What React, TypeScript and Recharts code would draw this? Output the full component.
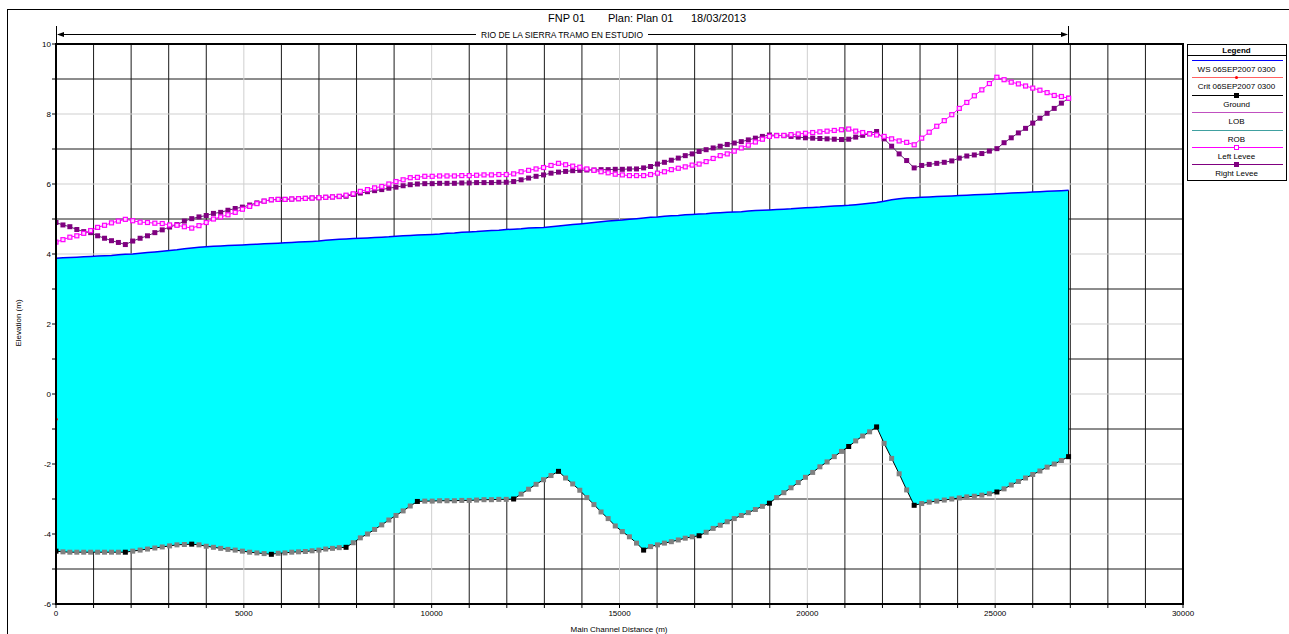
import React from "react";
import {
  ComposedChart,
  Area,
  Line,
  Scatter,
  XAxis,
  YAxis,
  CartesianGrid,
  ReferenceLine,
} from "recharts";

// river stations (m), one per plotted cross section
const stations = [
  0, 185, 369, 554, 738, 923, 1108, 1292, 1477, 1661, 1846,
  2042, 2239, 2435, 2631, 2828, 3024, 3220, 3417, 3613,
  3806, 3999, 4191, 4384, 4577, 4770, 4962, 5155, 5348, 5540, 5733,
  5914, 6095, 6275, 6456, 6637, 6817, 6998, 7179, 7360, 7540, 7721,
  7911, 8101, 8291, 8481, 8671, 8860, 9050, 9240, 9430, 9620,
  9817, 10014, 10211, 10408, 10605, 10802, 10999, 11196, 11393, 11591, 11788, 11985, 12182,
  12381, 12580, 12779, 12978, 13177, 13376,
  13565, 13754, 13943, 14131, 14320, 14509, 14698, 14887, 15076, 15264, 15453, 15642,
  15827, 16011, 16196, 16380, 16565, 16750, 16934, 17119,
  17306, 17493, 17681, 17868, 18055, 18242, 18429, 18617, 18804, 18991,
  19183, 19375, 19566, 19758, 19950, 20142, 20334, 20525, 20717, 20909, 21101,
  21287, 21473, 21658, 21844,
  22044, 22244, 22444, 22644, 22844,
  23044, 23244, 23445, 23645, 23845, 24045, 24245, 24445, 24645, 24846, 25046,
  25237, 25428, 25618, 25809, 26000, 26191, 26382, 26572, 26763, 26954,
];

const groundElev = [
  -4.49, -4.51, -4.52, -4.52, -4.52, -4.52, -4.52, -4.52, -4.52, -4.52, -4.52,
  -4.49, -4.46, -4.43, -4.4, -4.37, -4.34, -4.31, -4.3, -4.29,
  -4.31, -4.35, -4.38, -4.41, -4.44, -4.46, -4.49, -4.52, -4.54, -4.56, -4.58,
  -4.55, -4.54, -4.52, -4.51, -4.5, -4.48, -4.46, -4.43, -4.41, -4.39, -4.38,
  -4.25, -4.11, -4.0, -3.87, -3.74, -3.6, -3.47, -3.34, -3.2, -3.07,
  -3.06, -3.06, -3.05, -3.05, -3.05, -3.04, -3.04, -3.03, -3.02, -3.02, -3.01, -3.01, -3.0,
  -2.86, -2.72, -2.58, -2.45, -2.33, -2.21,
  -2.4, -2.57, -2.75, -2.96, -3.16, -3.37, -3.56, -3.77, -3.93, -4.08, -4.26, -4.46,
  -4.36, -4.31, -4.26, -4.22, -4.17, -4.12, -4.08, -4.05,
  -3.95, -3.84, -3.75, -3.65, -3.56, -3.47, -3.39, -3.3, -3.21, -3.12,
  -2.96, -2.82, -2.68, -2.53, -2.38, -2.24, -2.08, -1.94, -1.79, -1.64, -1.5,
  -1.34, -1.2, -1.08, -0.94,
  -1.41, -1.84, -2.28, -2.74, -3.18,
  -3.13, -3.09, -3.06, -3.03, -3.0, -2.97, -2.94, -2.92, -2.89, -2.85, -2.8,
  -2.71, -2.6, -2.5, -2.4, -2.3, -2.2, -2.09, -2.0, -1.9, -1.79,
];

const wsElev = [
  3.88, 3.89, 3.9, 3.91, 3.92, 3.93, 3.94, 3.95, 3.96, 3.98, 3.99,
  4.0, 4.02, 4.04, 4.06, 4.08, 4.1, 4.12, 4.15, 4.17,
  4.19, 4.21, 4.22, 4.23, 4.24, 4.25, 4.26, 4.27, 4.28, 4.29, 4.3,
  4.31, 4.32, 4.33, 4.34, 4.35, 4.36, 4.37, 4.39, 4.41, 4.42, 4.43,
  4.44, 4.45, 4.46, 4.47, 4.48, 4.49, 4.51, 4.52, 4.53, 4.54,
  4.55, 4.56, 4.57, 4.59, 4.6, 4.62, 4.63, 4.64, 4.66, 4.67, 4.68, 4.7, 4.71,
  4.72, 4.74, 4.75, 4.76, 4.78, 4.8,
  4.82, 4.84, 4.86, 4.88, 4.9, 4.92, 4.94, 4.96, 4.97, 4.99, 5.01, 5.03,
  5.05, 5.06, 5.08, 5.09, 5.1, 5.12, 5.13, 5.14,
  5.15, 5.17, 5.18, 5.19, 5.2, 5.21, 5.23, 5.24, 5.25, 5.26,
  5.27, 5.28, 5.29, 5.31, 5.32, 5.33, 5.34, 5.36, 5.37, 5.38, 5.39,
  5.41, 5.43, 5.45, 5.47,
  5.51, 5.55, 5.58, 5.6, 5.61,
  5.62, 5.63, 5.64, 5.65, 5.66, 5.67, 5.68, 5.69, 5.7, 5.71, 5.72,
  5.73, 5.74, 5.75, 5.76, 5.77, 5.78, 5.79, 5.8, 5.81, 5.82,
];

const leftLevee = [
  4.34, 4.41, 4.48, 4.52, 4.59, 4.67, 4.76, 4.82, 4.89, 4.94, 4.99,
  4.95, 4.91, 4.9, 4.88, 4.87, 4.83, 4.82, 4.78, 4.74,
  4.81, 4.9, 5.0, 5.06, 5.12, 5.19, 5.28, 5.36, 5.44, 5.51, 5.55,
  5.56, 5.56, 5.57, 5.58, 5.59, 5.6, 5.61, 5.62, 5.63, 5.65, 5.68,
  5.72, 5.79, 5.84, 5.89, 5.93, 6.0, 6.07, 6.12, 6.18, 6.19,
  6.22, 6.22, 6.23, 6.23, 6.23, 6.24, 6.24, 6.25, 6.26, 6.26, 6.27, 6.27, 6.29,
  6.35, 6.39, 6.43, 6.47, 6.53, 6.59,
  6.55, 6.51, 6.48, 6.43, 6.39, 6.35, 6.32, 6.28, 6.26, 6.24, 6.24, 6.24,
  6.27, 6.31, 6.35, 6.41, 6.45, 6.49, 6.54, 6.57,
  6.64, 6.73, 6.81, 6.86, 6.94, 7.03, 7.11, 7.2, 7.28, 7.36,
  7.38, 7.39, 7.41, 7.43, 7.45, 7.47, 7.49, 7.51, 7.53, 7.55, 7.57,
  7.51, 7.47, 7.43, 7.4,
  7.36, 7.29, 7.23, 7.19, 7.12,
  7.31, 7.48, 7.65, 7.81, 7.98, 8.16, 8.33, 8.52, 8.69, 8.87, 9.05,
  8.98, 8.91, 8.86, 8.8, 8.74, 8.68, 8.61, 8.53, 8.5, 8.45,
];

const rightLevee = [
  4.9, 4.83, 4.78, 4.7, 4.64, 4.61, 4.52, 4.45, 4.38, 4.33, 4.27,
  4.37, 4.45, 4.52, 4.61, 4.69, 4.77, 4.84, 4.94, 5.01,
  5.06, 5.1, 5.16, 5.19, 5.25, 5.3, 5.34, 5.4, 5.46, 5.51, 5.55,
  5.56, 5.56, 5.57, 5.58, 5.59, 5.6, 5.61, 5.62, 5.63, 5.64, 5.65,
  5.7, 5.74, 5.78, 5.81, 5.84, 5.88, 5.91, 5.95, 5.98, 6.0,
  6.01, 6.01, 6.02, 6.02, 6.02, 6.03, 6.03, 6.04, 6.04, 6.04, 6.05, 6.05, 6.07,
  6.12, 6.17, 6.22, 6.26, 6.31, 6.34,
  6.36, 6.38, 6.39, 6.4, 6.4, 6.41, 6.41, 6.42, 6.42, 6.43, 6.43, 6.46,
  6.5, 6.57, 6.62, 6.68, 6.74, 6.81, 6.86, 6.93,
  6.98, 7.03, 7.08, 7.13, 7.17, 7.21, 7.26, 7.31, 7.36, 7.4,
  7.39, 7.38, 7.36, 7.34, 7.32, 7.31, 7.3, 7.29, 7.28, 7.27, 7.28,
  7.34, 7.39, 7.44, 7.5,
  7.29, 7.08, 6.86, 6.67, 6.46,
  6.53, 6.56, 6.59, 6.62, 6.66, 6.74, 6.8, 6.83, 6.87, 6.94, 7.01,
  7.18, 7.32, 7.46, 7.59, 7.74, 7.88, 8.02, 8.16, 8.31, 8.45,
];

// surveyed sections (black markers); the rest are interpolated
const realSections = [
  0, 1846, 3613, 5733, 7721, 9620, 12182, 13376, 15642, 17119, 18991, 21101, 21844, 22844, 25046, 26954,
];

const critPoints = [{ station: 0, crit: -0.72 }];

const xTicks = [
  0, 1000, 2000, 3000, 4000, 5000, 6000, 7000, 8000, 9000, 10000, 11000, 12000, 13000, 14000, 15000,
  16000, 17000, 18000, 19000, 20000, 21000, 22000, 23000, 24000, 25000, 26000, 27000, 28000, 29000, 30000,
];
const xLabelTicks = [0, 5000, 10000, 15000, 20000, 25000, 30000];
const yTicks = [-6, -5, -4, -3, -2, -1, 0, 1, 2, 3, 4, 5, 6, 7, 8, 9, 10];
const yLabelTicks = [-6, -4, -2, 0, 2, 4, 6, 8, 10];

const data = stations.map((station, i) => ({
  station,
  ground: groundElev[i],
  ws: wsElev[i],
  left: leftLevee[i],
  right: rightLevee[i],
}));

const last = data[data.length - 1];

const W = 1289;
const H = 634;
const PLOT = { left: 56, top: 44, right: 1183, bottom: 604 };
const FONT = "'Liberation Sans', Arial, sans-serif";

const GroundDot = (props: any) => {
  const { cx, cy, payload, index } = props;
  if (cx == null || cy == null) return null;
  const real = realSections.includes(payload.station);
  return (
    <rect key={`g-${index}`} x={cx - 2.5} y={cy - 2.5} width={5} height={5} fill={real ? "#000000" : "#808080"} />
  );
};

const LeftDot = (props: any) => {
  const { cx, cy, index } = props;
  if (cx == null || cy == null) return null;
  return (
    <rect key={`l-${index}`} x={cx - 2} y={cy - 2} width={4} height={4} fill="#ffd6ff" stroke="#ff00ff" strokeWidth={1.2} />
  );
};

const RightDot = (props: any) => {
  const { cx, cy, index } = props;
  if (cx == null || cy == null) return null;
  return <rect key={`r-${index}`} x={cx - 2.5} y={cy - 2.5} width={5} height={5} fill="#800080" />;
};

const legendRows = [
  { label: "WS  06SEP2007 0300", y: 60, color: "#0000ff", marker: "" },
  { label: "Crit  06SEP2007 0300", y: 77, color: "#ff6060", marker: "crit" },
  { label: "Ground", y: 95, color: "#000000", marker: "ground" },
  { label: "LOB", y: 112, color: "#c050c0", marker: "" },
  { label: "ROB", y: 130, color: "#40a0a0", marker: "" },
  { label: "Left Levee", y: 147, color: "#ff00ff", marker: "left" },
  { label: "Right Levee", y: 164, color: "#800080", marker: "right" },
];

function Overlay() {
  const lx = 1187;
  const lw = 99;
  const cx = lx + lw / 2;
  return (
    <svg width={W} height={H} style={{ position: "absolute", left: 0, top: 0, pointerEvents: "none" }}>
      {/* page frame */}
      <rect x={7.5} y={9.5} width={1300} height={640} fill="none" stroke="#000" strokeWidth={1} />
      {/* plot frame */}
      <rect
        x={PLOT.left}
        y={PLOT.top}
        width={PLOT.right - PLOT.left}
        height={PLOT.bottom - PLOT.top}
        fill="none"
        stroke="#000"
        strokeWidth={2}
      />
      {/* title */}
      <g fontFamily={FONT} fontSize={11} fill="#000">
        <text x={548} y={22}>FNP 01</text>
        <text x={608} y={22}>Plan: Plan 01</text>
        <text x={691} y={22}>18/03/2013</text>
      </g>
      {/* reach arrow */}
      <line x1={56.5} y1={26} x2={56.5} y2={44} stroke="#000" strokeWidth={1} />
      <line x1={1068.5} y1={26} x2={1068.5} y2={43} stroke="#000" strokeWidth={1} />
      <line x1={58} y1={34.5} x2={476} y2={34.5} stroke="#000" strokeWidth={1} />
      <line x1={648} y1={34.5} x2={1066} y2={34.5} stroke="#000" strokeWidth={1} />
      <path d="M57,34.5 L64,32 L64,37 Z" fill="#000" />
      <path d="M1068,34.5 L1061,32 L1061,37 Z" fill="#000" />
      <text
        x={481}
        y={37.5}
        fontFamily={FONT}
        fontSize={8.5}
        textLength={162}
        lengthAdjust="spacingAndGlyphs"
        fill="#000"
      >
        RIO DE LA SIERRA TRAMO EN ESTUDIO
      </text>
      {/* axis titles */}
      <text
        x={18}
        y={323}
        transform="rotate(-90 18 323)"
        textAnchor="middle"
        dominantBaseline="central"
        fontFamily={FONT}
        fontSize={8}
        fill="#000"
      >
        Elevation (m)
      </text>
      <text x={619} y={632} textAnchor="middle" fontFamily={FONT} fontSize={8} fill="#000">
        Main Channel Distance (m)
      </text>
      {/* legend */}
      <rect x={lx + 0.5} y={44.5} width={lw} height={136} fill="#fff" stroke="#000" strokeWidth={1} />
      <text x={cx} y={52.5} textAnchor="middle" fontFamily={FONT} fontSize={8} fontWeight="bold" fill="#000">
        Legend
      </text>
      <line x1={lx} y1={55.5} x2={lx + lw} y2={55.5} stroke="#000" strokeWidth={1} />
      {legendRows.map((r) => (
        <g key={r.label}>
          <line x1={lx + 5} y1={r.y + 0.5} x2={lx + lw - 3} y2={r.y + 0.5} stroke={r.color} strokeWidth={1} />
          {r.marker === "crit" && <circle cx={cx} cy={r.y + 0.5} r={1.5} fill="#ff0000" />}
          {r.marker === "ground" && <rect x={cx - 2.5} y={r.y - 2} width={5} height={5} fill="#000" />}
          {r.marker === "left" && (
            <rect x={cx - 2} y={r.y - 1.5} width={4} height={4} fill="#fff" stroke="#ff00ff" strokeWidth={1} />
          )}
          {r.marker === "right" && <rect x={cx - 2.5} y={r.y - 2} width={5} height={5} fill="#800080" />}
          <text x={cx} y={r.y + 12} textAnchor="middle" fontFamily={FONT} fontSize={8} fill="#000">
            {r.label}
          </text>
        </g>
      ))}
    </svg>
  );
}

export default function App() {
  const tickStyle = { fill: "#000", fontSize: 8, fontFamily: FONT };
  return (
    <div style={{ position: "absolute", left: 0, top: 0, width: W, height: H, background: "#fff" }}>
      <ComposedChart
        width={W}
        height={H}
        data={data}
        margin={{ top: PLOT.top, right: W - PLOT.right, bottom: 0, left: 0 }}
      >
        <CartesianGrid
          stroke="#1a1a1a"
          strokeWidth={1}
          horizontalValues={yTicks.filter((t) => !yLabelTicks.includes(t))}
          verticalValues={xTicks.filter((t) => !xLabelTicks.includes(t))}
        />
        <CartesianGrid
          stroke="#cfcfcf"
          strokeWidth={1}
          horizontalValues={yLabelTicks.filter((t) => t !== -6 && t !== 10)}
          verticalValues={xLabelTicks.filter((t) => t !== 0 && t !== 30000)}
        />
        <XAxis
          dataKey="station"
          type="number"
          domain={[0, 30000]}
          ticks={xTicks}
          tickFormatter={(v: number) => (xLabelTicks.includes(v) ? String(v) : "")}
          interval={0}
          height={H - PLOT.bottom}
          axisLine={false}
          tickLine={{ stroke: "#000" }}
          tickSize={4}
          tickMargin={2}
          tick={tickStyle}
          allowDataOverflow
        />
        <YAxis
          type="number"
          domain={[-6, 10]}
          ticks={yTicks}
          tickFormatter={(v: number) => (yLabelTicks.includes(v) ? String(v) : "")}
          interval={0}
          width={PLOT.left}
          axisLine={false}
          tickLine={{ stroke: "#000" }}
          tickSize={4}
          tickMargin={1}
          tick={tickStyle}
          allowDataOverflow
        />
        <Area
          type="linear"
          dataKey={(d: any) => [d.ground, d.ws]}
          stroke="none"
          fill="#00ffff"
          fillOpacity={1}
          isAnimationActive={false}
        />
        <ReferenceLine
          segment={[
            { x: last.station, y: last.ground },
            { x: last.station, y: last.ws },
          ]}
          stroke="#000"
          strokeWidth={1}
        />
        <Line
          type="linear"
          dataKey="ws"
          stroke="#0000ff"
          strokeWidth={1.5}
          dot={false}
          isAnimationActive={false}
        />
        <Line
          type="linear"
          dataKey="ground"
          stroke="#000"
          strokeWidth={1}
          dot={GroundDot}
          isAnimationActive={false}
        />
        <Line
          type="linear"
          dataKey="right"
          stroke="#5a2a6a"
          strokeWidth={1}
          dot={RightDot}
          isAnimationActive={false}
        />
        <Line
          type="linear"
          dataKey="left"
          stroke="#ff00ff"
          strokeWidth={1}
          dot={LeftDot}
          isAnimationActive={false}
        />
        <Scatter
          data={critPoints}
          dataKey="crit"
          fill="#ff0000"
          shape={(p: any) => <circle cx={p.cx} cy={p.cy} r={1.8} fill="#ff0000" />}
          isAnimationActive={false}
        />
      </ComposedChart>
      <Overlay />
    </div>
  );
}
